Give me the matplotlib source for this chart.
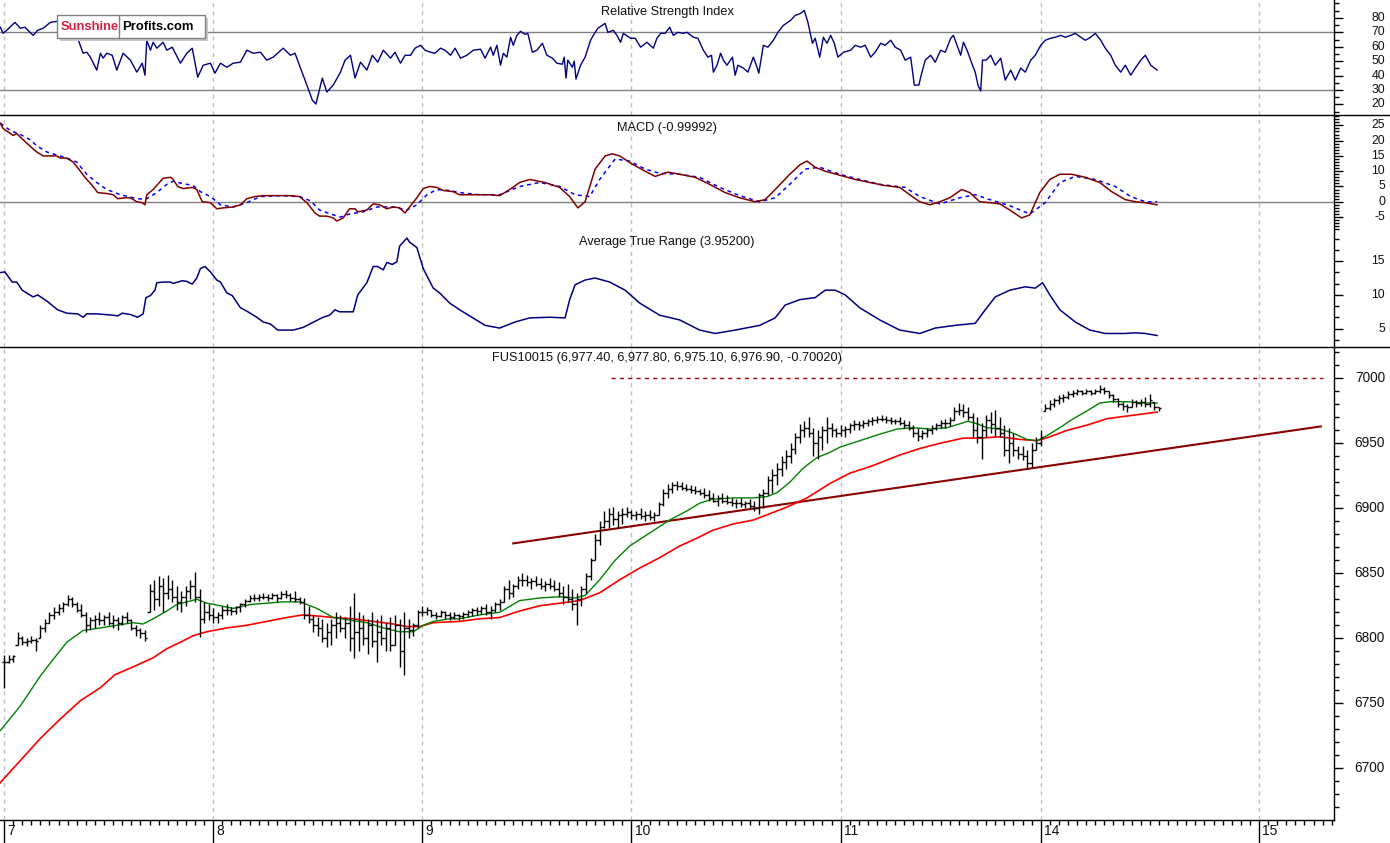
import numpy as np
import matplotlib
matplotlib.use("Agg")
import matplotlib.pyplot as plt
from matplotlib.lines import Line2D
from matplotlib.patches import Rectangle
from matplotlib.ticker import MultipleLocator, FixedLocator

plt.rcParams['font.family'] = ['Liberation Sans', 'DejaVu Sans']

# ---------------- data (time in trading hours since the open of day 7) ----------------
day_pos = [0, 23, 46, 69, 92, 114, 138]
day_labels = ['7', '8', '9', '10', '11', '14', '15']

rsi_points = [(-0.4,73.5),(-0.1,69.3),(0.3,71.4),(1.2,76.9),(1.8,72.8),(2.3,73.5),(3.2,67.9),(3.7,71.4),(4.3,72.8),(5.1,76.9),
    (5.8,77.6),(6.7,76.9),(7.5,71.4),(8.1,65.9),(8.7,55.5),(9.1,56.2),(9.5,52.8),(10.2,43.8),(10.6,55.5),(10.9,52.1),
    (11.3,55.5),(11.9,54.1),(12.4,43.8),(13.1,55.5),(13.9,50.7),(14.6,42.4),(15.2,48.6),(15.5,40.3),(15.7,64.5),(16.1,57.6),
    (16.4,63.1),(16.8,59.0),(17.5,63.1),(17.9,57.6),(18.5,59.7),(19.4,48.6),(20.1,55.5),(20.7,59.0),(21.3,38.9),(21.9,47.2),
    (22.7,48.6),(23.2,41.7),(23.8,48.6),(24.5,45.8),(25.2,48.6),(26.0,49.3),(26.7,57.6),(27.4,55.5),(28.2,56.2),(28.9,50.7),
    (29.6,52.8),(30.7,59.0),(31.5,54.1),(32.0,55.5),(32.6,45.2),(33.1,36.9),(33.9,23.1),(34.3,20.3),(35.0,38.3),(35.5,28.6),
    (36.2,33.4),(37.0,42.4),(37.5,50.7),(38.1,54.1),(38.6,38.3),(39.2,49.3),(39.9,43.8),(40.5,54.1),(41.1,49.3),(41.7,57.6),
    (42.5,52.1),(43.0,56.2),(43.6,48.6),(44.1,54.1),(44.7,54.1),(45.2,59.0),(45.8,61.0),(46.3,57.6),(46.9,56.2),(47.4,55.5),
    (48.0,59.0),(48.5,57.6),(49.1,54.1),(49.6,59.0),(50.2,52.1),(50.9,54.1),(51.6,57.6),(52.4,58.3),(52.9,52.1),(53.5,59.7),
    (53.8,54.1),(54.2,61.0),(54.6,47.2),(54.9,55.5),(55.3,52.8),(55.7,66.6),(56.0,61.0),(56.4,67.9),(56.8,70.7),(57.3,68.6),
    (57.6,69.3),(58.1,56.2),(58.6,57.6),(59.2,62.4),(59.7,54.1),(60.3,52.1),(60.8,48.6),(61.4,47.9),(61.6,52.8),(61.8,38.3),
    (62.0,50.7),(62.5,45.8),(62.7,50.0),(62.9,37.6),(63.4,47.2),(63.9,52.8),(64.5,64.5),(64.8,67.9),(65.3,72.8),(66.1,76.2),
    (66.4,70.0),(67.0,71.4),(67.4,67.9),(67.8,63.1),(68.1,69.3),(68.9,65.9),(69.4,65.9),(70.0,59.7),(70.7,63.1),(71.4,59.0),
    (71.8,65.9),(72.2,69.3),(72.7,69.3),(73.2,73.5),(73.6,67.9),(74.1,70.0),(74.7,69.3),(75.1,70.0),(75.8,66.6),(76.3,65.9),
    (76.9,57.6),(77.4,52.8),(77.8,54.1),(78.0,42.4),(78.4,47.2),(78.8,55.5),(79.1,50.7),(79.5,47.2),(80.1,52.8),(80.4,40.3),
    (80.7,47.2),(81.3,45.2),(81.8,42.4),(82.4,52.8),(82.8,45.8),(83.0,41.7),(83.5,61.0),(84.0,59.7),(84.6,64.5),(85.1,70.0),
    (85.7,74.8),(86.5,78.3),(87.0,81.7),(87.6,83.1),(88.0,85.2),(88.4,76.9),(88.9,62.4),(89.2,65.9),(89.7,52.8),(90.1,66.6),
    (90.5,62.4),(90.9,67.9),(91.3,62.4),(91.7,52.8),(92.3,56.2),(93.1,57.6),(93.6,61.0),(94.2,59.7),(94.7,61.0),(95.3,52.8),
    (95.8,56.2),(96.4,62.4),(96.9,61.0),(97.5,64.5),(98.0,59.7),(98.6,57.6),(99.1,50.7),(99.7,52.8),(100.1,33.4),(100.6,33.4),
    (100.8,38.9),(101.3,50.7),(101.9,54.1),(102.4,49.3),(103.0,57.6),(103.5,56.2),(104.1,65.9),(104.4,67.9),(104.8,61.0),(105.2,54.1),
    (105.5,63.1),(105.9,57.6),(106.5,47.2),(106.8,42.4),(107.1,33.4),(107.4,29.3),(107.6,50.7),(108.0,50.7),(108.5,54.1),(109.0,47.2),
    (109.6,52.1),(110.1,36.9),(110.7,43.8),(111.2,36.9),(111.8,45.2),(112.3,42.4),(112.9,50.7),(113.4,54.1),(114.0,61.0),(114.5,64.5),
    (115.1,65.9),(115.6,66.6),(116.2,67.9),(116.7,66.6),(117.3,67.9),(117.8,69.3),(118.4,66.6),(118.9,64.5),(119.5,66.6),(120.0,69.3),
    (120.6,64.5),(121.1,59.0),(121.7,54.1),(122.2,47.2),(122.8,42.4),(123.3,47.2),(123.9,40.3),(124.4,45.2),(125.0,50.7),(125.5,54.1),
    (126.1,47.2),(126.8,43.8)]

macd_points = [(-0.4,25.7),(-0.1,24.0),(1.0,21.7),(1.4,22.3),(2.1,20.3),(3.2,17.3),(3.6,16.3),(4.3,15.0),(5.8,15.0),(6.2,14.3),
    (6.9,14.3),(7.6,13.0),(8.4,10.0),(8.9,8.0),(9.8,5.0),(10.3,3.0),(11.3,2.7),(12.0,2.3),(12.5,1.0),(13.3,1.3),
    (13.9,1.3),(14.6,0.0),(15.2,-0.3),(15.5,-1.0),(15.7,2.3),(16.4,4.0),(16.9,5.7),(17.5,7.7),(18.3,8.0),(18.6,7.3),
    (19.1,5.0),(19.7,4.3),(20.7,4.7),(21.2,4.0),(21.8,0.0),(22.7,-0.3),(23.4,-2.3),(24.1,-2.0),(25.2,-1.7),(26.0,-1.0),
    (26.7,1.0),(27.6,1.7),(28.5,2.0),(30.0,2.0),(31.4,2.0),(32.5,1.7),(33.3,-0.3),(34.2,-3.7),(34.7,-4.7),(35.5,-4.7),
    (36.2,-5.3),(36.6,-6.3),(37.3,-5.3),(38.0,-2.3),(38.6,-2.3),(38.9,-3.3),(39.9,-2.7),(40.6,-0.7),(41.3,-1.0),(42.1,-2.3),
    (42.8,-1.7),(43.5,-2.0),(44.1,-3.7),(44.6,-1.7),(45.4,1.3),(46.1,4.3),(46.8,5.0),(47.6,4.7),(48.3,3.7),(49.4,3.3),
    (50.1,2.3),(51.2,2.3),(53.4,2.3),(54.5,2.0),(55.6,4.0),(56.7,6.3),(57.8,7.3),(59.5,6.3),(61.1,4.7),(62.2,1.7),
    (63.1,-2.0),(63.9,0.0),(65.0,10.7),(66.1,15.0),(66.9,15.7),(67.7,15.0),(69.1,12.3),(70.5,10.0),(71.6,8.3),(73.0,9.7),
    (74.3,9.0),(76.0,8.0),(77.6,5.7),(79.3,3.0),(80.9,1.3),(82.6,0.0),(83.7,0.7),(84.8,4.0),(86.4,9.0),(87.6,12.3),
    (88.3,13.3),(89.2,11.3),(90.3,10.0),(91.9,8.7),(93.6,7.3),(95.2,6.3),(96.9,5.3),(98.5,4.7),(99.6,2.3),(100.7,0.0),
    (101.8,-1.0),(102.9,0.0),(104.0,1.3),(105.3,4.0),(106.2,3.0),(107.3,0.0),(108.4,-0.3),(109.5,-0.7),(110.6,-2.7),(111.9,-5.3),
    (112.8,-4.3),(113.9,3.0),(115.0,7.3),(116.1,9.0),(117.4,9.0),(118.9,8.0),(120.5,6.3),(121.8,3.3),(123.3,0.7),(124.4,0.0),
    (125.5,-0.3),(126.8,-1.0)]

signal_points = [(-0.4,25.7),(0.7,23.3),(1.8,22.0),(2.9,20.3),(3.6,18.3),(4.7,16.3),(6.9,14.3),(8.0,13.0),(9.1,9.0),(10.2,6.3),
    (11.3,4.0),(12.8,2.3),(14.2,1.3),(15.5,0.7),(16.8,3.0),(17.9,5.7),(18.6,6.7),(19.6,6.0),(20.8,5.3),(21.6,3.3),
    (22.7,1.7),(23.8,-1.0),(25.2,-1.7),(26.7,-0.3),(28.2,1.7),(30.4,2.0),(32.5,1.7),(33.7,0.3),(34.7,-2.7),(35.9,-4.0),
    (37.0,-5.0),(38.0,-4.0),(39.5,-3.3),(41.0,-1.7),(42.8,-1.7),(44.3,-2.7),(45.4,-1.0),(46.5,2.3),(47.6,4.0),(49.0,3.7),
    (50.1,3.0),(52.3,2.3),(54.5,2.3),(56.7,5.0),(58.9,6.3),(61.1,5.0),(62.8,2.3),(64.4,1.7),(65.5,7.3),(67.2,14.0),
    (68.8,13.3),(70.5,10.7),(72.1,9.3),(74.3,9.0),(76.5,8.0),(78.7,4.7),(80.9,2.0),(83.1,0.0),(84.8,1.3),(86.4,5.7),
    (88.1,10.7),(89.7,11.3),(91.9,9.0),(94.1,7.3),(96.3,5.7),(99.1,4.7),(100.7,1.7),(102.9,-0.7),(105.1,1.3),(106.8,2.3),
    (108.4,0.7),(110.6,-1.3),(112.8,-4.0),(114.5,-0.3),(116.1,6.3),(117.8,8.3),(120.0,7.3),(122.2,5.0),(123.9,1.7),(125.5,0.0),
    (126.8,0.0)]

atr_points = [(-0.4,13.3),(0.1,13.4),(0.9,11.9),(1.4,11.9),(2.0,10.7),(3.2,9.7),(3.7,10.0),(4.7,9.1),(5.9,7.8),(6.9,7.3),
    (8.1,7.2),(8.7,6.7),(9.1,7.2),(10.2,7.2),(12.0,7.0),(12.5,6.9),(13.0,7.3),(13.9,7.1),(14.7,6.7),(15.3,7.2),
    (15.6,9.6),(16.1,9.9),(16.6,10.7),(16.8,11.8),(17.5,11.9),(18.3,11.9),(18.6,11.7),(19.6,12.1),(20.1,12.0),(20.7,11.6),
    (21.2,12.5),(21.6,13.9),(22.1,14.2),(22.7,13.4),(23.4,12.2),(23.8,11.9),(24.5,10.3),(25.1,9.9),(26.0,8.1),(26.7,7.6),
    (27.8,6.7),(28.5,6.0),(29.3,5.7),(30.1,4.8),(31.8,4.8),(32.9,5.2),(34.2,6.1),(35.1,6.7),(35.8,7.0),(36.4,7.8),
    (36.9,7.5),(38.4,7.5),(38.9,10.0),(39.9,11.8),(40.6,14.2),(41.1,14.2),(41.7,13.7),(42.1,14.8),(42.7,14.5),(43.2,14.9),
    (43.5,17.2),(44.3,18.4),(44.6,17.8),(45.4,17.0),(46.1,13.9),(47.2,11.0),(47.9,10.3),(49.0,8.8),(50.1,7.8),(51.2,6.9),
    (52.9,5.5),(54.5,5.1),(56.2,6.0),(57.8,6.6),(60.0,6.7),(61.7,6.6),(62.2,9.3),(62.8,11.5),(63.9,12.2),(65.0,12.5),
    (66.6,11.9),(68.3,10.7),(69.9,8.8),(72.1,7.0),(74.3,6.3),(76.5,4.8),(78.2,4.3),(80.4,4.8),(83.1,5.5),(84.8,6.6),
    (85.9,8.5),(87.5,9.3),(89.2,9.6),(90.3,10.7),(91.4,10.7),(92.5,10.0),(94.1,8.1),(96.3,6.3),(98.5,4.8),(100.7,4.3),
    (102.4,5.1),(104.6,5.5),(106.8,5.8),(107.9,7.8),(109.0,9.7),(110.6,10.7),(112.3,11.2),(113.4,11.0),(114.2,11.8),(115.0,10.0),
    (116.1,7.8),(117.8,6.0),(119.4,4.8),(121.1,4.3),(123.3,4.3),(124.4,4.4),(125.5,4.3),(126.8,4.0)]

# price bars: (time, high, low, close)
price_bars = [(0,6787,6762,6782),(0.5,6787,6781,6784),(1,6787,6782,6786),(1.5,6805,6795,6800),(2,6802,6795,6797),
    (2.5,6800,6794,6798),(3,6802,6796,6799),(3.5,6800,6790,6798),(4,6810,6800,6808),(4.5,6815,6805,6812),
    (5,6820,6812,6818),(5.5,6824,6815,6820),(6,6826,6818,6823),(6.5,6828,6820,6826),(7,6833,6825,6830),
    (7.5,6832,6824,6826),(8,6828,6820,6822),(8.5,6826,6816,6818),(9,6820,6805,6810),(9.5,6816,6806,6814),
    (10,6818,6808,6815),(10.5,6820,6810,6814),(11,6818,6810,6816),(11.5,6820,6810,6812),(12,6818,6808,6814),
    (12.5,6816,6806,6812),(13,6818,6810,6816),(13.5,6820,6812,6814),(14,6815,6806,6808),(14.5,6810,6802,6806),
    (15,6808,6800,6804),(15.5,6806,6798,6800),(16,6842,6820,6836),(16.5,6845,6822,6830),(17,6848,6825,6840),
    (17.5,6846,6820,6835),(18,6849,6830,6838),(18.5,6845,6828,6832),(19,6840,6822,6828),(19.5,6836,6820,6832),
    (20,6840,6825,6836),(20.5,6845,6830,6840),(21,6851,6828,6832),(21.5,6838,6801,6815),(22,6828,6812,6820),
    (22.5,6826,6814,6818),(23,6823,6812,6816),(23.5,6820,6812,6818),(24,6825,6815,6822),(24.5,6826,6818,6822),
    (25,6824,6818,6821),(25.5,6825,6819,6824),(26,6827,6820,6826),(26.5,6830,6824,6829),(27,6833,6828,6831),
    (27.5,6834,6829,6831),(28,6834,6829,6832),(28.5,6835,6830,6832),(29,6834,6829,6831),(29.5,6835,6830,6833),
    (30,6834,6828,6831),(30.5,6836,6830,6834),(31,6837,6831,6833),(31.5,6835,6829,6831),(32,6836,6828,6830),
    (32.5,6832,6826,6828),(33,6831,6815,6818),(33.5,6825,6812,6815),(34,6818,6805,6810),(34.5,6816,6802,6808),
    (35,6815,6797,6800),(35.5,6812,6793,6805),(36,6815,6795,6810),(36.5,6820,6800,6812),(37,6818,6805,6808),
    (37.5,6816,6800,6812),(38,6825,6790,6800),(38.5,6835,6785,6805),(39,6820,6790,6808),(39.5,6818,6795,6800),
    (40,6815,6788,6810),(40.5,6820,6793,6798),(41,6815,6782,6805),(41.5,6818,6795,6800),(42,6812,6790,6808),
    (42.5,6816,6790,6795),(43,6818,6795,6810),(43.5,6815,6778,6790),(44,6820,6772,6808),(44.5,6815,6800,6806),
    (45,6812,6802,6810),(45.5,6822,6808,6820),(46,6825,6817,6820),(46.5,6824,6818,6822),(47,6822,6816,6818),
    (47.5,6820,6815,6817),(48,6822,6816,6820),(48.5,6821,6815,6818),(49,6820,6814,6816),(49.5,6820,6815,6818),
    (50,6819,6814,6817),(50.5,6820,6815,6819),(51,6822,6816,6820),(51.5,6823,6817,6822),(52,6824,6818,6821),
    (52.5,6825,6819,6823),(53,6826,6818,6820),(53.5,6825,6815,6822),(54,6828,6820,6826),(54.5,6830,6822,6828),
    (55,6840,6828,6838),(55.5,6845,6830,6835),(56,6842,6832,6840),(56.5,6848,6838,6845),(57,6850,6840,6845),
    (57.5,6849,6840,6843),(58,6846,6838,6844),(58.5,6848,6840,6842),(59,6846,6838,6840),(59.5,6844,6836,6842),
    (60,6846,6838,6840),(60.5,6845,6836,6838),(61,6843,6832,6835),(61.5,6840,6826,6832),(62,6842,6828,6830),
    (62.5,6838,6822,6826),(63,6835,6810,6830),(63.5,6840,6825,6838),(64,6850,6835,6848),(64.5,6862,6845,6860),
    (65,6880,6860,6876),(65.5,6890,6872,6886),(66,6898,6885,6890),(66.5,6900,6885,6896),(67,6901,6887,6892),
    (67.5,6898,6885,6895),(68,6900,6888,6896),(68.5,6901,6893,6897),(69,6899,6892,6895),(69.5,6898,6891,6896),
    (70,6900,6892,6894),(70.5,6898,6890,6895),(71,6899,6891,6893),(71.5,6897,6890,6895),(72,6905,6895,6903),
    (72.5,6915,6902,6912),(73,6919,6908,6915),(73.5,6920,6912,6918),(74,6921,6914,6917),(74.5,6920,6914,6916),
    (75,6919,6913,6915),(75.5,6918,6912,6914),(76,6917,6911,6913),(76.5,6915,6910,6912),(77,6916,6908,6910),
    (77.5,6914,6906,6908),(78,6912,6905,6906),(78.5,6910,6902,6908),(79,6912,6904,6906),(79.5,6910,6903,6905),
    (80,6908,6902,6904),(80.5,6907,6900,6904),(81,6908,6901,6903),(81.5,6906,6900,6904),(82,6907,6900,6902),
    (82.5,6906,6898,6900),(83,6912,6896,6910),(83.5,6915,6900,6912),(84,6925,6910,6922),(84.5,6930,6912,6926),
    (85,6935,6918,6930),(85.5,6940,6925,6936),(86,6945,6930,6940),(86.5,6950,6935,6946),(87,6958,6942,6955),
    (87.5,6965,6950,6960),(88,6967,6955,6962),(88.5,6970,6955,6958),(89,6962,6940,6950),(89.5,6960,6938,6955),
    (90,6963,6945,6960),(90.5,6970,6950,6962),(91,6966,6955,6960),(91.5,6962,6955,6958),(92,6964,6956,6960),
    (92.5,6963,6955,6961),(93,6966,6958,6964),(93.5,6968,6960,6965),(94,6967,6960,6964),(94.5,6968,6962,6966),
    (95,6969,6963,6967),(95.5,6970,6964,6968),(96,6971,6966,6969),(96.5,6972,6967,6969),(97,6971,6966,6968),
    (97.5,6970,6965,6967),(98,6969,6965,6967),(98.5,6970,6964,6966),(99,6968,6962,6964),(99.5,6967,6960,6962),
    (100,6964,6955,6958),(100.5,6962,6952,6956),(101,6960,6953,6958),(101.5,6962,6955,6960),(102,6964,6957,6962),
    (102.5,6966,6960,6964),(103,6968,6962,6966),(103.5,6969,6962,6966),(104,6970,6963,6968),(104.5,6978,6968,6975),
    (105,6981,6972,6976),(105.5,6980,6970,6974),(106,6978,6968,6970),(106.5,6973,6955,6960),(107,6970,6950,6955),
    (107.5,6966,6938,6960),(108,6972,6955,6968),(108.5,6974,6958,6965),(109,6976,6956,6962),(109.5,6970,6955,6958),
    (110,6964,6940,6945),(110.5,6962,6935,6950),(111,6958,6940,6945),(111.5,6948,6938,6942),(112,6948,6937,6940),
    (112.5,6945,6930,6935),(113,6950,6932,6945),(113.5,6955,6945,6950),(114,6960,6948,6955),(114.5,6980,6975,6977),
    (115,6983,6976,6980),(115.5,6985,6978,6983),(116,6987,6980,6985),(116.5,6988,6982,6986),(117,6990,6984,6988),
    (117.5,6991,6986,6989),(118,6992,6987,6990),(118.5,6991,6987,6989),(119,6992,6988,6990),(119.5,6991,6987,6989),
    (120,6992,6988,6990),(120.5,6995,6989,6992),(121,6993,6988,6990),(121.5,6990,6985,6987),(122,6988,6982,6984),
    (122.5,6985,6978,6980),(123,6982,6976,6979),(123.5,6980,6974,6978),(124,6984,6978,6982),(124.5,6983,6978,6981),
    (125,6984,6979,6982),(125.5,6986,6978,6980),(126,6988,6978,6983),(126.5,6982,6976,6978),(127,6978,6975,6977)]

ma_fast_points = [(-0.4,6729),(1.8,6748),(4.0,6771),(5.1,6781),(6.9,6797),(8.7,6806),(10.6,6808),(12.4,6810),(14.2,6812),(15.3,6811),
    (16.4,6815),(17.9,6821),(19.0,6826),(20.1,6828),(21.2,6830),(22.3,6827),(23.8,6825),(25.2,6823),(27.1,6826),(28.9,6827),
    (30.7,6828),(32.6,6828),(34.4,6823),(36.2,6816),(38.0,6814),(39.9,6812),(41.7,6808),(43.5,6805),(45.0,6805),(46.1,6810),
    (47.2,6813),(49.0,6815),(50.1,6815),(52.3,6818),(54.5,6820),(56.7,6829),(58.9,6831),(61.1,6832),(62.8,6831),(63.9,6833),
    (65.5,6845),(67.2,6860),(68.8,6871),(69.9,6876),(72.1,6886),(73.2,6891),(75.1,6898),(76.5,6904),(77.9,6907),(80.2,6908),
    (82.4,6908),(83.9,6909),(85.0,6912),(86.4,6920),(87.9,6931),(89.4,6939),(90.8,6943),(91.9,6947),(94.1,6952),(96.3,6957),
    (98.2,6961),(100.0,6962),(101.8,6961),(103.7,6962),(105.1,6965),(106.0,6967),(107.0,6965),(108.1,6962),(109.5,6961),(110.9,6958),
    (112.5,6953),(113.6,6952),(114.7,6956),(116.1,6962),(117.6,6969),(119.1,6975),(120.5,6981),(121.6,6982),(123.5,6982),(125.7,6981),
    (126.8,6981)]

ma_slow_points = [(-0.4,6689),(1.8,6706),(4.0,6723),(6.2,6738),(8.4,6752),(10.6,6762),(12.2,6772),(14.2,6778),(16.4,6785),(17.9,6792),
    (19.4,6797),(20.8,6802),(22.3,6805),(24.5,6808),(26.7,6810),(28.9,6813),(31.1,6816),(32.9,6818),(34.7,6817),(36.2,6816),
    (38.4,6815),(40.6,6813),(42.8,6811),(44.3,6809),(45.7,6809),(47.2,6812),(50.1,6813),(52.3,6815),(54.5,6816),(56.7,6821),
    (58.9,6825),(61.1,6827),(63.3,6829),(65.5,6835),(67.7,6845),(69.9,6854),(72.1,6862),(74.3,6871),(76.2,6877),(77.9,6883),
    (80.2,6888),(82.4,6891),(83.9,6895),(86.1,6901),(88.3,6908),(90.8,6919),(93.0,6927),(95.6,6933),(98.5,6941),(100.7,6946),
    (102.9,6950),(105.5,6954),(107.3,6954),(109.5,6955),(111.7,6953),(113.6,6952),(115.0,6955),(116.9,6960),(119.1,6964),(121.3,6969),
    (123.5,6971),(125.7,6973),(126.8,6974)]

trend_t = [56.0, 144.8]
trend_v = [6873, 6963]
resist_t = [66.8, 145.0]
resist_v = [7000, 7000]

rsi_title = 'Relative Strength Index'
macd_title = 'MACD (-0.99992)'
atr_title = 'Average True Range (3.95200)'
price_title = 'FUS10015 (6,977.40, 6,977.80, 6,975.10, 6,976.90, -0.70020)'

rsi_labels = [20, 30, 40, 50, 60, 70, 80]
macd_labels = [-5, 0, 5, 10, 15, 20, 25]
atr_labels = [5, 10, 15]
price_labels = [6700, 6750, 6800, 6850, 6900, 6950, 7000]

# ---------------- layout ----------------
W, H = 1390, 843
XR = 1334
fig = plt.figure(figsize=(W / 100, H / 100), dpi=100)
fig.patch.set_facecolor('white')


def box(top, bot):
    return [0, 1 - bot / H, XR / W, (bot - top) / H]


ax_rsi = fig.add_axes(box(0, 115))
ax_macd = fig.add_axes(box(115, 232))
ax_atr = fig.add_axes(box(232, 347))
ax_px = fig.add_axes(box(347, 820))
axes = [ax_rsi, ax_macd, ax_atr, ax_px]

X0, X1 = -0.44, 146.25
LAB_OFF = 36.7  # points from right spine to right edge of labels
for ax in axes:
    ax.set_xlim(X0, X1)
    for s in ['top', 'left', 'bottom']:
        ax.spines[s].set_visible(False)
    ax.spines['right'].set_linewidth(1.0)
    ax.yaxis.tick_right()
    ax.tick_params(axis='y', which='major', length=6.5, width=1, direction='out',
                   labelright=False, labelleft=False)
    ax.tick_params(axis='y', which='minor', length=3.6, width=1, direction='out')
    ax.tick_params(axis='x', which='both', bottom=False, top=False,
                   labelbottom=False, labeltop=False)
    for d in day_pos:
        ax.axvline(d, color='#c0c0c0', lw=1, ls=(0, (3, 3)), zorder=0)


def ylabels(ax, vals, fs):
    for v in vals:
        ax.annotate(f'{v}', xy=(1, v), xycoords=('axes fraction', 'data'),
                    xytext=(LAB_OFF, 0), textcoords='offset points',
                    ha='right', va='center', fontsize=fs, color='#101010',
                    annotation_clip=False)


# RSI
ax_rsi.set_ylim(12.7, 92.4)
ax_rsi.yaxis.set_major_locator(FixedLocator(rsi_labels))
ax_rsi.yaxis.set_minor_locator(FixedLocator([15, 25, 35, 45, 55, 65, 75, 85, 90]))
ax_rsi.axhline(70, color='#808080', lw=1)
ax_rsi.axhline(30, color='#808080', lw=1)
rt, rv = zip(*rsi_points)
ax_rsi.plot(rt, rv, color='#000080', lw=1.0)
ylabels(ax_rsi, rsi_labels, 8.8)

# MACD
ax_macd.set_ylim(-9.9, 28.4)
ax_macd.yaxis.set_major_locator(FixedLocator(macd_labels))
ax_macd.yaxis.set_minor_locator(MultipleLocator(1))
ax_macd.axhline(0, color='#808080', lw=1)
st, sv = zip(*signal_points)
ax_macd.plot(st, sv, color='#0000ff', lw=1.1, ls=(0, (2.5, 2.5)))
mt, mv = zip(*macd_points)
ax_macd.plot(mt, mv, color='#800000', lw=1.1)
ylabels(ax_macd, macd_labels, 8.8)

# ATR
ax_atr.set_ylim(2.3, 19.3)
ax_atr.yaxis.set_major_locator(FixedLocator(atr_labels))
ax_atr.yaxis.set_minor_locator(MultipleLocator(5 / 3))
at, av = zip(*atr_points)
ax_atr.plot(at, av, color='#000080', lw=1.1)
ylabels(ax_atr, atr_labels, 8.8)

# Price
ax_px.set_ylim(6660.2, 7024.1)
ax_px.yaxis.set_major_locator(FixedLocator(price_labels))
ax_px.yaxis.set_minor_locator(MultipleLocator(10))
ax_px.spines['bottom'].set_visible(True)
ax_px.spines['bottom'].set_linewidth(1.0)
ax_px.xaxis.set_major_locator(FixedLocator(day_pos))
ax_px.xaxis.set_minor_locator(MultipleLocator(1))
ax_px.tick_params(axis='x', which='major', bottom=True, length=16.5, width=1, direction='out')
ax_px.tick_params(axis='x', which='minor', bottom=True, length=3.6, width=1, direction='out')
for d, lab in zip(day_pos, day_labels):
    ax_px.annotate(lab, xy=(d, 0), xycoords=('data', 'axes fraction'),
                   xytext=(2.5, -3.0), textcoords='offset points', ha='left', va='top',
                   fontsize=10, color='#101010', annotation_clip=False)

bt = np.array([b[0] for b in price_bars], dtype=float)
bh = np.array([b[1] for b in price_bars], dtype=float)
bl = np.array([b[2] for b in price_bars], dtype=float)
bc = np.array([b[3] for b in price_bars], dtype=float)
# open tick drawn at the previous bar's close, kept inside the bar's range
bo = np.clip(np.r_[bc[0], bc[:-1]], bl, bh)
ax_px.plot(resist_t, resist_v, color='#a00000', lw=1.0, ls=(0, (3, 3)))
ax_px.plot(trend_t, trend_v, color='#8b0000', lw=1.5)
ft, fv = zip(*ma_slow_points)
ax_px.plot(ft, fv, color='#ff0000', lw=1.2)
gt, gv = zip(*ma_fast_points)
ax_px.plot(gt, gv, color='#008000', lw=1.0)
ax_px.vlines(bt, bl, bh, color='black', lw=1.0)
ax_px.hlines(bc, bt, bt + 0.25, color='black', lw=1.0)
ax_px.hlines(bo, bt - 0.25, bt, color='black', lw=1.0)
ylabels(ax_px, price_labels, 9.8)

# panel titles
fig.text(667 / W, 1 - 12 / H, rsi_title, ha='center', va='center', fontsize=9.2, color='#101010')
fig.text(667 / W, 1 - 128 / H, macd_title, ha='center', va='center', fontsize=9.2, color='#101010')
fig.text(667 / W, 1 - 242 / H, atr_title, ha='center', va='center', fontsize=9.2, color='#101010')
fig.text(667 / W, 1 - 358 / H, price_title, ha='center', va='center', fontsize=9.2, color='#101010')

# panel separators
for yp in (115, 347):
    fig.add_artist(Line2D([0, 1], [1 - yp / H] * 2, transform=fig.transFigure,
                          color='black', lw=1.0, zorder=5))


# logo
def fx(p):
    return p / W


def fy(p):
    return 1 - p / H


fig.add_artist(Rectangle((fx(60), fy(41)), fx(148), 23 / H, transform=fig.transFigure,
                         facecolor='#c8c8c8', edgecolor='none', zorder=6))
fig.add_artist(Rectangle((fx(57), fy(38)), fx(148), 23 / H, transform=fig.transFigure,
                         facecolor='white', edgecolor='#808080', lw=1, zorder=7))
fig.add_artist(Line2D([fx(119), fx(119)], [fy(15), fy(38)], transform=fig.transFigure,
                      color='#808080', lw=1, zorder=8))
fig.text(fx(61), fy(27), 'Sunshine', ha='left', va='center', fontsize=9.4,
         fontweight='bold', color='#d42040', zorder=9)
fig.text(fx(122), fy(27), 'Profits.com', ha='left', va='center', fontsize=9.4,
         fontweight='bold', color='black', zorder=9)

fig.savefig('out.png', dpi=100, facecolor='white')
